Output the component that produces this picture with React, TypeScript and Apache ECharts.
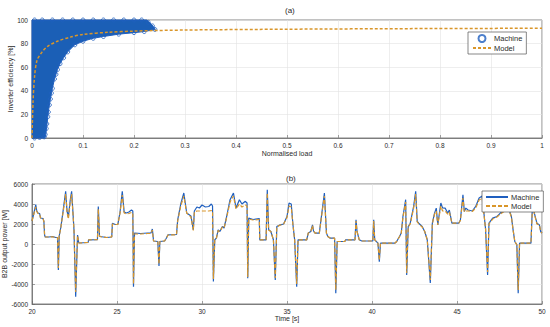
import React, { useEffect, useRef } from "react";
import * as echarts from "echarts";

// ---------- (a) inverter efficiency ----------
const loadTicks = [0, 0.1, 0.2, 0.3, 0.4, 0.5, 0.6, 0.7, 0.8, 0.9, 1];
// dense measured cloud outline [load, efficiency %]
const machineCloud: number[][] = [
  [0, 100], [0.225, 100], [0.235, 96], [0.242, 92], [0.22, 90.2], [0.2, 89.3], [0.17, 88],
  [0.14, 86], [0.12, 84.5], [0.1, 82], [0.084, 79], [0.07, 73], [0.062, 68], [0.055, 63],
  [0.05, 58], [0.044, 50], [0.04, 42], [0.036, 33], [0.033, 25], [0.031, 18], [0.029, 10],
  [0.027, 3], [0.025, 0], [0, 0],
];
// visible individual machine markers on the cloud edge
const machineEdge: number[][] = [
  [0.005, 100], [0.02, 100], [0.04, 100], [0.06, 100], [0.08, 100], [0.1, 100], [0.12, 100],
  [0.14, 100], [0.16, 100], [0.18, 100], [0.2, 100], [0.215, 100], [0.228, 98], [0.236, 95],
  [0.241, 92], [0.22, 90.2], [0.2, 89.3], [0.17, 88], [0.14, 86], [0.12, 84.5], [0.1, 82],
  [0.084, 79], [0.07, 73], [0.062, 68], [0.055, 63], [0.05, 58], [0.047, 54], [0.044, 50],
  [0.04, 42], [0.038, 38], [0.036, 33], [0.034, 28], [0.032, 22], [0.031, 18], [0.029, 12],
  [0.028, 8], [0.026, 3], [0.024, 1], [0.015, 0.5], [0.005, 0],
];
const modelEff: number[][] = [
  [0, 0], [0.002, 30], [0.005, 52], [0.01, 66], [0.02, 73], [0.03, 77.5], [0.05, 82],
  [0.075, 85.5], [0.1, 87.8], [0.15, 89.6], [0.2, 90.6], [0.3, 91.5], [0.5, 92.2],
  [0.75, 92.7], [1, 93],
];

// ---------- (b) B2B output power ----------
const machinePower: number[][] = [
  [20.00, 2300], [20.10, 3000], [20.18, 3600], [20.22, 3930], [20.28, 3300], [20.35, 3100], [20.45, 3050], [20.50, 2600], [20.65, 2550], [20.70, 2250], [20.74, 900], [20.78, 700],
  [21.00, 700], [21.20, 750], [21.40, 650], [21.50, 650], [21.55, -2600], [21.60, 800], [21.70, 1700], [21.84, 3430], [21.98, 5260], [22.06, 3300], [22.14, 2700], [22.25, 4400],
  [22.33, 5260], [22.40, 3400], [22.47, 1400], [22.57, -5270], [22.63, -1800], [22.68, 900], [22.75, 100], [23.30, 150], [23.33, 420], [23.85, 430], [23.90, 3760], [23.97, 800],
  [24.00, 750], [24.40, 650], [24.69, 700], [24.73, 2080], [24.90, 1950], [25.05, 1950], [25.18, 3200], [25.31, 5260], [25.42, 3200], [25.55, 3100], [25.70, 3200], [25.85, 3400],
  [25.93, 3300], [25.97, -4270], [26.03, 1100], [26.40, 1050], [26.80, 1100], [27.00, 1100], [27.08, 1500], [27.15, 300], [27.40, 250], [27.47, -2200], [27.52, 250], [27.80, 300],
  [27.90, 580], [28.00, 920], [28.50, 950], [28.57, 2420], [28.75, 4000], [28.93, 5100], [29.10, 3100], [29.35, 2800], [29.49, 1420], [29.55, 3300], [29.70, 3700], [29.85, 3600],
  [30.00, 3900], [30.20, 3700], [30.40, 3750], [30.55, 4000], [30.62, 3800], [30.67, -3760], [30.75, 420], [30.85, 600], [30.95, 1420], [31.05, 1250], [31.20, 1750], [31.30, 1600],
  [31.45, 2750], [31.65, 4430], [31.85, 5100], [32.00, 3600], [32.20, 4430], [32.35, 4000], [32.55, 4270], [32.65, 4100], [32.69, -3430], [32.75, 2590], [33.00, 2450], [33.37, 2550],
  [33.40, 420], [33.77, 420], [33.84, 5430], [33.92, 1420], [34.05, 1250], [34.20, 420], [34.31, -3600], [34.40, 1750], [34.60, 1920], [34.80, 2000], [35.00, 2750], [35.12, 4100],
  [35.25, 4000], [35.35, 1920], [35.45, 420], [35.57, -4270], [35.65, 420], [36.16, 420], [36.25, 1090], [36.40, 1250], [36.50, 1920], [36.56, 1300], [36.65, 1090], [36.90, 1090],
  [37.05, 3090], [37.20, 5100], [37.32, 1090], [37.40, 750], [37.55, 580], [37.80, 580], [37.87, -4930], [37.95, 250], [38.40, 250], [38.45, 420], [39.00, 420], [39.06, 2420],
  [39.12, 1250], [39.25, 420], [39.40, 300], [40.05, 300], [40.10, 2420], [40.16, 420], [40.35, 80], [40.43, -1760], [40.50, 80], [41.35, 80], [41.45, 250], [41.62, 750],
  [41.72, 1090], [41.82, 2750], [41.98, 4430], [42.04, -3100], [42.13, 1750], [42.25, 2080], [42.45, 3760], [42.57, 5260], [42.66, 2260], [42.75, 2080], [42.95, 1750], [43.10, 1250],
  [43.25, 420], [43.43, -3900], [43.55, 2080], [43.68, 3090], [43.78, 3590], [43.87, 1920], [44.05, 4100], [44.15, 3600], [44.30, 3590], [44.45, 3090], [44.55, 3400], [44.70, 2080],
  [45.10, 2080], [45.20, 2400], [45.35, 4930], [45.43, 3260], [45.52, 3590], [45.65, 3400], [45.90, 3300], [46.10, 3760], [46.30, 4600], [46.48, 4800], [46.68, 1500], [46.80, -3100],
  [46.88, 2080], [47.10, 2590], [47.35, 2750], [47.55, 3090], [47.80, 3400], [48.05, 3500], [48.20, 2750], [48.30, 1420], [48.40, 250], [48.52, -80], [48.60, -4930], [48.68, 80],
  [49.35, 80], [49.45, 4430], [49.55, 3090], [49.70, 2080], [49.85, 1900], [49.92, 1250], [50.00, 1090],
];
const modelPower: number[][] = [
  [20.00, 2300], [20.10, 2950], [20.18, 3450], [20.22, 3700], [20.28, 3250], [20.35, 3050], [20.45, 3000], [20.50, 2600], [20.65, 2550], [20.70, 2250], [20.74, 900], [20.78, 700],
  [21.00, 700], [21.20, 720], [21.40, 650], [21.50, 650], [21.55, -2400], [21.60, 800], [21.70, 1700], [21.84, 3300], [21.98, 5000], [22.06, 3200], [22.14, 2500], [22.25, 4200],
  [22.33, 5000], [22.40, 3300], [22.47, 1400], [22.57, -4800], [22.63, -1700], [22.68, 850], [22.75, 100], [23.30, 150], [23.33, 420], [23.85, 430], [23.90, 3500], [23.97, 800],
  [24.00, 750], [24.40, 650], [24.69, 700], [24.73, 2000], [24.90, 1950], [25.05, 1950], [25.18, 3100], [25.31, 4900], [25.42, 3100], [25.55, 3000], [25.70, 3050], [25.85, 3150],
  [25.93, 3100], [25.97, -4000], [26.03, 1000], [26.40, 1000], [26.80, 1050], [27.00, 1050], [27.08, 1400], [27.15, 300], [27.40, 250], [27.47, -2000], [27.52, 250], [27.80, 300],
  [27.90, 580], [28.00, 900], [28.50, 920], [28.57, 2300], [28.75, 3800], [28.93, 4800], [29.10, 3100], [29.35, 2700], [29.49, 1350], [29.55, 3200], [29.70, 3300], [29.85, 3300],
  [30.00, 3300], [30.20, 3300], [30.40, 3300], [30.55, 3350], [30.62, 3300], [30.67, -3500], [30.75, 420], [30.85, 600], [30.95, 1350], [31.05, 1250], [31.20, 1700], [31.30, 1600],
  [31.45, 2650], [31.65, 4200], [31.85, 4800], [32.00, 3500], [32.20, 4000], [32.35, 3700], [32.55, 3900], [32.65, 3800], [32.69, -3300], [32.75, 2500], [33.00, 2400], [33.37, 2450],
  [33.40, 420], [33.77, 420], [33.84, 5100], [33.92, 1400], [34.05, 1250], [34.20, 420], [34.31, -3400], [34.40, 1700], [34.60, 1900], [34.80, 2000], [35.00, 2650], [35.12, 3800],
  [35.25, 3700], [35.35, 1900], [35.45, 420], [35.57, -4000], [35.65, 420], [36.16, 420], [36.25, 1090], [36.40, 1250], [36.50, 1850], [36.56, 1300], [36.65, 1090], [36.90, 1090],
  [37.05, 3000], [37.20, 4800], [37.32, 1090], [37.40, 750], [37.55, 580], [37.80, 580], [37.87, -4600], [37.95, 250], [38.40, 250], [38.45, 420], [39.00, 420], [39.06, 2300],
  [39.12, 1250], [39.25, 420], [39.40, 300], [40.05, 300], [40.10, 2300], [40.16, 420], [40.35, 80], [40.43, -1600], [40.50, 80], [41.35, 80], [41.45, 250], [41.62, 750],
  [41.72, 1090], [41.82, 2650], [41.98, 4200], [42.04, -2900], [42.13, 1700], [42.25, 2000], [42.45, 3600], [42.57, 5000], [42.66, 2200], [42.75, 2000], [42.95, 1700], [43.10, 1250],
  [43.25, 420], [43.43, -3600], [43.55, 2000], [43.68, 3000], [43.78, 3300], [43.87, 1900], [44.05, 3800], [44.15, 3300], [44.30, 3300], [44.45, 3000], [44.55, 3200], [44.70, 2080],
  [45.10, 2080], [45.20, 2350], [45.35, 4600], [45.43, 3200], [45.52, 3300], [45.65, 3300], [45.90, 3250], [46.10, 3600], [46.30, 4400], [46.48, 4600], [46.68, 1500], [46.80, -2800],
  [46.88, 2000], [47.10, 2500], [47.35, 2700], [47.55, 3000], [47.80, 3300], [48.05, 3400], [48.20, 2700], [48.30, 1400], [48.40, 250], [48.52, -80], [48.60, -4600], [48.68, 80],
  [49.35, 80], [49.45, 4200], [49.55, 3000], [49.70, 2000], [49.85, 1900], [49.92, 1250], [50.00, 1090],
];
const powerTicks = [-6000, -4000, -2000, 0, 2000, 4000, 6000];

const BLUE = "#1f5fbf";
const CLOUD = "#1b5fb6";
const ORANGE = "#d9962a";
const FONT = "Liberation Sans";
const TXT = "#2b2b2b";

export default function App() {
  const ref = useRef<HTMLDivElement>(null);
  useEffect(() => {
    if (!ref.current) return;
    const chart = echarts.init(ref.current, undefined, { renderer: "svg" });
    const axisCommon = {
      axisLine: { show: true, onZero: false, lineStyle: { color: "#666", width: 0.8 } },
      axisTick: { show: true, inside: true, length: 3, lineStyle: { color: "#666", width: 0.6 } },
      splitLine: { show: true, lineStyle: { color: "#e3e3e3", width: 0.6 } },
      axisLabel: { fontSize: 6.5, color: TXT, fontFamily: FONT, margin: 4 },
      nameTextStyle: { fontSize: 7, color: TXT, fontFamily: FONT },
      nameLocation: "middle" as const,
      nameMoveOverlap: false,
    };
    const plain = (v: number) => String(Math.round(v * 10) / 10);
    chart.setOption({
      animation: false,
      textStyle: { fontFamily: FONT },
      title: [
        { text: "(a)", left: 280, top: 1, textStyle: { fontSize: 8, fontWeight: "normal", color: TXT, fontFamily: FONT } },
        { text: "(b)", left: 281, top: 169, textStyle: { fontSize: 8, fontWeight: "normal", color: TXT, fontFamily: FONT } },
      ],
      grid: [
        { left: 32, top: 20, width: 510, height: 118, show: true, borderColor: "#666", borderWidth: 0.8, outerBoundsMode: "none", containLabel: false },
        { left: 32, top: 184, width: 510, height: 120, show: true, borderColor: "#666", borderWidth: 0.8, outerBoundsMode: "none", containLabel: false },
      ],
      xAxis: [
        {
          ...axisCommon, gridIndex: 0, type: "value", min: loadTicks[0], max: loadTicks[loadTicks.length - 1], interval: 0.1,
          name: "Normalised load", nameGap: 12,
          axisLabel: { ...axisCommon.axisLabel, formatter: plain },
        },
        {
          ...axisCommon, gridIndex: 1, type: "value", min: 20, max: 50, interval: 5,
          name: "Time [s]", nameGap: 11,
          axisLabel: { ...axisCommon.axisLabel, formatter: plain },
        },
      ],
      yAxis: [
        {
          ...axisCommon, gridIndex: 0, type: "value", min: 0, max: 100, interval: 20,
          name: "Inverter efficiency [%]", nameGap: 18,
          axisLabel: { ...axisCommon.axisLabel, formatter: plain },
        },
        {
          ...axisCommon, gridIndex: 1, type: "value", min: powerTicks[0], max: powerTicks[powerTicks.length - 1], interval: 2000,
          name: "B2B output power [W]", nameGap: 24,
          axisLabel: { ...axisCommon.axisLabel, formatter: plain },
        },
      ],
      legend: [
        {
          data: [{ name: "Machine" }, { name: "Model", itemStyle: { opacity: 0 } }],
          orient: "vertical", left: 468, top: 32,
          backgroundColor: "#fff", borderColor: "#555", borderWidth: 0.7, padding: [2, 4, 2, 4],
          itemGap: 1, itemWidth: 18, itemHeight: 7,
          textStyle: { fontSize: 7.5, color: TXT, fontFamily: FONT, padding: [0, 0, 0, -2] },
        },
        {
          data: [{ name: "Machine ", itemStyle: { opacity: 0 } }, { name: "Model ", itemStyle: { opacity: 0 } }],
          orient: "vertical", left: 482, top: 191,
          backgroundColor: "#fff", borderColor: "#555", borderWidth: 0.7, padding: [2, 4, 2, 3],
          itemGap: 1, itemWidth: 22, itemHeight: 7,
          formatter: (n: string) => n.trim(),
          textStyle: { fontSize: 7.5, color: TXT, fontFamily: FONT, padding: [0, 0, 0, -2] },
        },
      ],
      series: [
        {
          name: "cloud", type: "custom", xAxisIndex: 0, yAxisIndex: 0, data: machineCloud,
          encode: { x: 0, y: 1 }, silent: true,
          renderItem: (params: any, api: any) => {
            if (params.dataIndex !== 0) return null;
            const pts = machineCloud.map((p) => api.coord(p));
            return { type: "polygon", shape: { points: pts }, style: { fill: CLOUD, stroke: BLUE, lineWidth: 1 } };
          },
        },
        {
          name: "Machine", type: "scatter", xAxisIndex: 0, yAxisIndex: 0, data: machineEdge,
          symbol: "circle", symbolSize: 4, clip: false,
          itemStyle: { color: "rgba(255,255,255,0)", borderColor: BLUE, borderWidth: 1 },
        },
        {
          name: "Model", type: "line", xAxisIndex: 0, yAxisIndex: 0, data: modelEff,
          symbol: "none", smooth: 0.3,
          lineStyle: { color: ORANGE, width: 1.5, type: [3, 2] },
          itemStyle: { color: ORANGE },
        },
        {
          name: "Machine ", type: "line", xAxisIndex: 1, yAxisIndex: 1, data: machinePower,
          symbol: "none", lineStyle: { color: BLUE, width: 1.2 }, itemStyle: { color: BLUE },
        },
        {
          name: "Model ", type: "line", xAxisIndex: 1, yAxisIndex: 1, data: modelPower,
          symbol: "none", lineStyle: { color: ORANGE, width: 1.2, type: [4, 2] }, itemStyle: { color: ORANGE },
        },
      ],
    });
    return () => chart.dispose();
  }, []);
  return <div ref={ref} style={{ width: 550, height: 327, position: "absolute", left: 0, top: 0 }} />;
}
